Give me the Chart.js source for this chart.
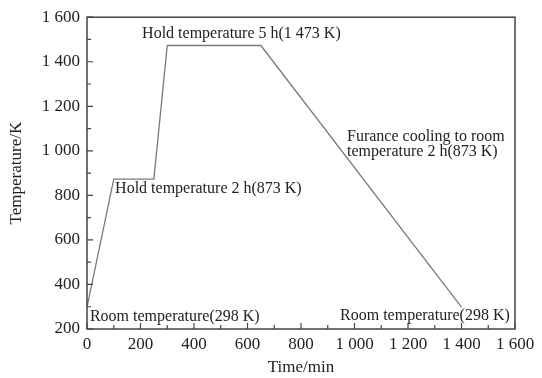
<!DOCTYPE html>
<html lang='en'>
<head>
  <meta charset='UTF-8'>
  <title>Heat treatment curve</title>
  <style>
    html, body { margin: 0; padding: 0; background: #fff; }
    #wrap { width: 542px; height: 378px; }
  </style>
</head>
<body>
<div id="wrap"><canvas id="chart" width="542" height="378"></canvas></div>
<script src="https://cdn.jsdelivr.net/npm/chart.js@4.4.1/dist/chart.umd.min.js"></script>
<script>
  // heat treatment schedule
  const timeMin = [0, 100, 250, 300, 650, 1400];
  const tempK = [298, 873, 873, 1473, 1473, 298];
  const xTickValues = [0, 200, 400, 600, 800, 1000, 1200, 1400, 1600];
  const yTickValues = [200, 400, 600, 800, 1000, 1200, 1400, 1600];
  const noteTexts = [
    'Hold temperature 5 h(1 473 K)',
    'Hold temperature 2 h(873 K)',
    'Room temperature(298 K)',
    'Room temperature(298 K)',
    'Furance cooling to room',
    'temperature 2 h(873 K)'
  ];
  const noteTime = [206, 105, 11, 946, 972, 972];
  const noteTemp = [1524, 829, 253, 258, 1065, 994];

  const serif = '"Liberation Serif", "DejaVu Serif", serif';
  const ink = '#222';

  // thousands with a space, as in the figure
  const fmt = (v) => {
    const s = String(v);
    return s.length > 3 ? s.slice(0, s.length - 3) + ' ' + s.slice(-3) : s;
  };

  // box frame, inward ticks and text notes
  const decor = {
    id: 'decor',
    afterDraw(chart) {
      const { ctx, chartArea: a, scales: { x, y } } = chart;
      ctx.save();
      ctx.strokeStyle = '#444';
      ctx.lineWidth = 1.5;
      ctx.strokeRect(a.left, a.top, a.right - a.left, a.bottom - a.top);

      ctx.lineWidth = 1.2;
      ctx.beginPath();
      for (let v = 0; v <= 1600; v += 100) {
        const px = x.getPixelForValue(v);
        const len = v % 200 === 0 ? 6 : 4;
        ctx.moveTo(px, a.bottom);
        ctx.lineTo(px, a.bottom - len);
      }
      for (let v = 200; v <= 1600; v += 100) {
        const py = y.getPixelForValue(v);
        const len = v % 200 === 0 ? 6 : 4;
        ctx.moveTo(a.left, py);
        ctx.lineTo(a.left + len, py);
      }
      ctx.stroke();

      ctx.fillStyle = ink;
      ctx.font = '16px ' + serif;
      ctx.textAlign = 'left';
      ctx.textBaseline = 'middle';
      noteTexts.forEach((t, i) => {
        ctx.fillText(t, x.getPixelForValue(noteTime[i]), y.getPixelForValue(noteTemp[i]));
      });
      ctx.restore();
    }
  };

  const ctx = document.getElementById('chart').getContext('2d');
  new Chart(ctx, {
    type: 'line',
    data: {
      datasets: [{
        data: timeMin.map((t, i) => ({ x: t, y: tempK[i] })),
        borderColor: '#7a7a7a',
        borderWidth: 1.3,
        pointRadius: 0,
        tension: 0,
        fill: false
      }]
    },
    options: {
      responsive: false,
      animation: false,
      layout: { padding: { top: 15, right: 27, left: 0, bottom: 0 } },
      plugins: { legend: { display: false }, tooltip: { enabled: false } },
      scales: {
        x: {
          type: 'linear',
          min: 0,
          max: 1600,
          afterFit: (s) => { s.height = 49; },
          afterBuildTicks: (s) => { s.ticks = xTickValues.map((v) => ({ value: v })); },
          grid: { display: false, drawTicks: false },
          border: { display: false },
          ticks: {
            padding: 5,
            maxRotation: 0,
            color: ink,
            font: { family: serif, size: 17 },
            callback: (v) => fmt(v)
          },
          title: {
            display: true,
            text: 'Time/min',
            color: ink,
            font: { family: serif, size: 17 },
            padding: { top: 0, bottom: 0 }
          }
        },
        y: {
          type: 'linear',
          min: 200,
          max: 1600,
          afterFit: (s) => { s.width = 87; },
          afterBuildTicks: (s) => { s.ticks = yTickValues.map((v) => ({ value: v })); },
          grid: { display: false, drawTicks: false },
          border: { display: false },
          ticks: {
            padding: 7,
            color: ink,
            font: { family: serif, size: 17 },
            callback: (v) => fmt(v)
          },
          title: {
            display: true,
            text: 'Temperature/K',
            color: ink,
            font: { family: serif, size: 17 },
            padding: { top: 6, bottom: 0 }
          }
        }
      }
    },
    plugins: [decor]
  });
</script>
</body>
</html>
